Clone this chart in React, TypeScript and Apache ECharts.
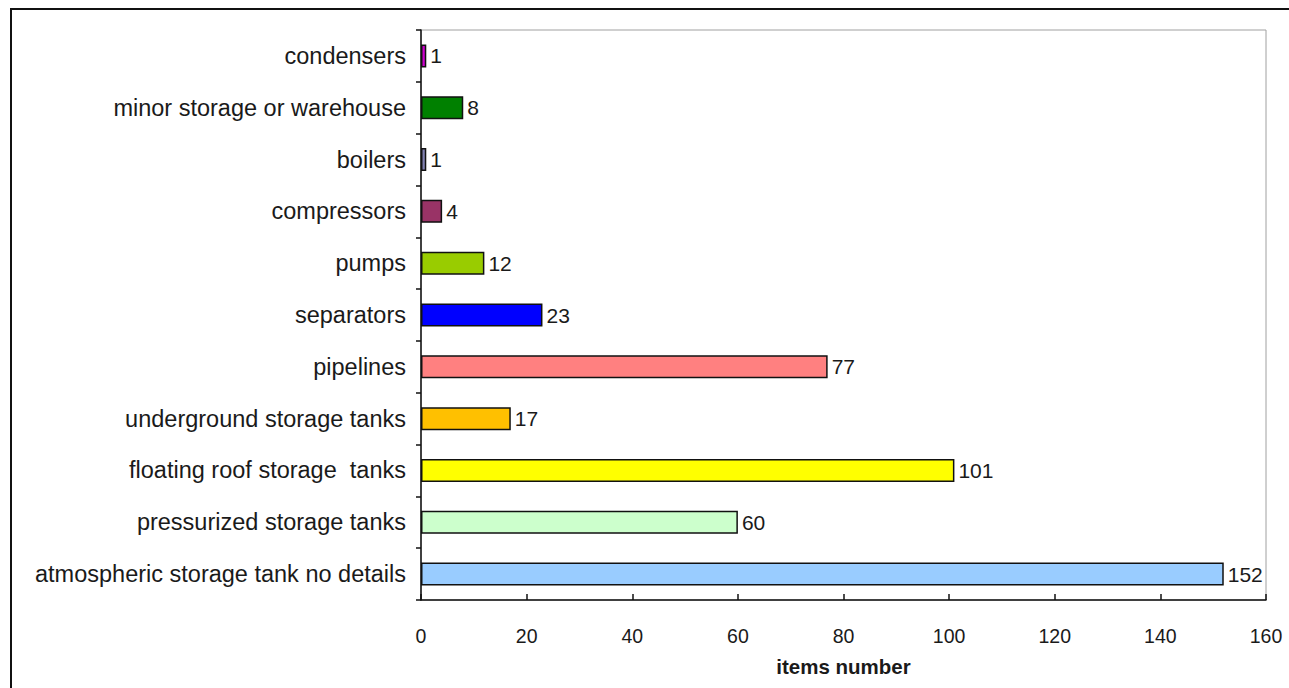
import React, { useEffect, useRef } from "react";
import * as echarts from "echarts";

const categories = [
  "atmospheric storage tank no details",
  "pressurized storage tanks",
  "floating roof storage  tanks",
  "underground storage tanks",
  "pipelines",
  "separators",
  "pumps",
  "compressors",
  "boilers",
  "minor storage or warehouse",
  "condensers",
];
const values = [152, 60, 101, 17, 77, 23, 12, 4, 1, 8, 1];
const colors = [
  "#99ccff",
  "#ccffcc",
  "#ffff00",
  "#ffc000",
  "#ff8080",
  "#0000ff",
  "#99cc00",
  "#993366",
  "#8080b0",
  "#008000",
  "#cc00cc",
];
const xTicks = { min: 0, max: 160, interval: 20 };
const xAxisTitle = "items number";

export default function App() {
  const ref = useRef<HTMLDivElement>(null);
  useEffect(() => {
    if (!ref.current) return;
    const chart = echarts.init(ref.current, undefined, { renderer: "svg" });
    const font = "'Liberation Sans', Arial, sans-serif";
    chart.setOption({
      animation: false,
      backgroundColor: "#ffffff",
      grid: {
        left: 421,
        right: 23,
        top: 30,
        bottom: 88,
        show: true,
        borderColor: "#a0a0a0",
        borderWidth: 1,
        containLabel: false,
      },
      xAxis: {
        type: "value",
        min: xTicks.min,
        max: xTicks.max,
        interval: xTicks.interval,
        name: xAxisTitle,
        nameLocation: "middle",
        nameGap: 56,
        nameTextStyle: {
          fontFamily: font,
          fontWeight: "bold",
          fontSize: 20.5,
          color: "#1a1a1a",
        },
        axisLine: { show: true, lineStyle: { color: "#111", width: 1.5 } },
        axisTick: { show: true, inside: true, length: 6, lineStyle: { color: "#111", width: 1.5 } },
        axisLabel: { fontFamily: font, fontSize: 19.5, color: "#1a1a1a", margin: 26 },
        splitLine: { show: false },
      },
      yAxis: {
        type: "category",
        data: categories,
        axisLine: { show: true, lineStyle: { color: "#111", width: 1.5 } },
        axisTick: { show: true, length: 5, lineStyle: { color: "#111", width: 1.5 } },
        axisLabel: { fontFamily: font, fontSize: 23.5, color: "#1a1a1a", margin: 15 },
        splitLine: { show: false },
      },
      series: [
        {
          type: "bar",
          data: values.map((v, i) => ({
            value: v,
            itemStyle: { color: colors[i] },
          })),
          barWidth: 23,
          itemStyle: { borderColor: "#111", borderWidth: 1.5 },
          label: {
            show: true,
            position: "right",
            distance: 4,
            fontFamily: font,
            fontSize: 21,
            color: "#1a1a1a",
          },
        },
      ],
      graphic: [
        {
          type: "rect",
          shape: { x: 11, y: 9, width: 1300, height: 700 },
          style: { fill: "none", stroke: "#111", lineWidth: 2 },
          silent: true,
        },
      ],
    });
    return () => chart.dispose();
  }, []);
  return (
    <div
      ref={ref}
      style={{ position: "fixed", left: 0, top: 0, width: 1289, height: 688 }}
    />
  );
}
